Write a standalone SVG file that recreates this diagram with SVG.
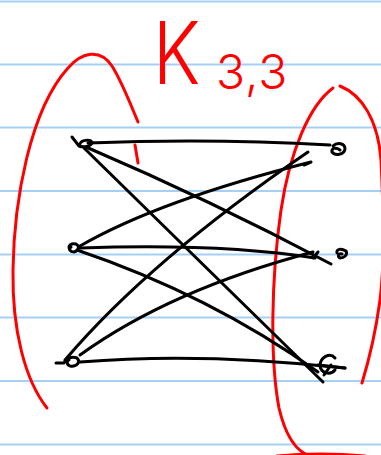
<svg xmlns="http://www.w3.org/2000/svg" width="381" height="455" viewBox="0 0 381 455">
<style>
.rule{stroke:#a6cff5;stroke-width:2}
.red{fill:none;stroke:#ff0000;stroke-width:3;stroke-linecap:round;stroke-linejoin:round}
.edge{fill:none;stroke:#000;stroke-width:3;stroke-linecap:round;stroke-linejoin:round}
.node{fill:none;stroke:#000;stroke-width:3;stroke-linecap:round;stroke-linejoin:round}
.lbl{fill:#ff0000;font-family:Inter,"Liberation Sans",sans-serif;font-weight:300}
</style>
<rect width="381" height="455" fill="#fff"/>
<g id="paper-lines">
<line class="rule" x1="0" y1="1.5" x2="381" y2="1.5"/>
<line class="rule" x1="0" y1="64.5" x2="381" y2="64.5"/>
<line class="rule" x1="0" y1="127.5" x2="381" y2="127.5"/>
<line class="rule" x1="0" y1="191" x2="381" y2="191"/>
<line class="rule" x1="0" y1="254.5" x2="381" y2="254.5"/>
<line class="rule" x1="0" y1="317.5" x2="381" y2="317.5"/>
<line class="rule" x1="0" y1="381" x2="381" y2="381"/>
<line class="rule" x1="0" y1="444.5" x2="381" y2="444.5"/>
</g>
<g id="title">
<text class="lbl" font-size="86" transform="translate(153,84) scale(0.85,1)">K</text>
<text class="lbl" font-size="48" x="216" y="89" letter-spacing="1">3,3</text>
</g>
<g id="left-part">
<path class="red" d="M47,408 C25,380 12,330 13,270 C14,200 30,110 68,68 C82,52 100,48 112,66 C122,82 130,103 138,122"/>
<path class="red" d="M135,145 L138,163"/>
</g>
<g id="right-part">
<path class="red" d="M333,88 C310,105 290,150 281,210 C271,280 270,360 279,408 C286,438 298,452 310,456"/>
<path class="red" d="M277,456 Q320,452 365,456"/>
<path class="red" d="M340,86 C362,95 378,120 381,160 C384,220 384,270 380,300 C376,330 369,360 362,383"/>
</g>
<g id="connectors">
<path class="edge" d="M88,143 Q210,138 330,145"/>
<path class="edge" d="M86,147 Q210,200 331,264"/>
<path class="edge" d="M84,148 L323,382"/>
<path class="edge" d="M80,246 Q160,200 311,162 M311,162 L304,165"/>
<path class="edge" d="M80,248 Q220,243 315,258 M313,258 L318,252"/>
<path class="edge" d="M77,250 Q210,295 318,372"/>
<path class="edge" d="M65,360 Q150,260 308,152"/>
<path class="edge" d="M80,355 Q170,290 313,252"/>
<path class="edge" d="M80,362 Q200,352 345,368"/>
</g>
<g id="node-a1"><path class="node" d="M72,137 L79,146 C84,148 92,146 92,142 C90,139 81,140 80,144"/></g>
<g id="node-a2"><path class="node" d="M70,250 C67,245 72,243 76,244 C80,246 79,251 74,252 C70,252 68,249 71,247"/></g>
<g id="node-a3"><path class="node" d="M56,363 L64,363 C66,358 72,356 77,358 C81,362 77,367 70,366 C66,364 67,361 69,360"/></g>
<g id="node-b1"><path class="node" d="M333,146 C337,142 345,143 345,149 C344,155 335,156 332,152 C331,148 336,147 340,150"/></g>
<g id="node-b2"><path class="node" d="M337,253 C336,249 341,248 346,251 C348,255 344,258 340,258 C337,256 339,253 342,254"/></g>
<g id="node-b3"><path class="node" d="M335,358 C330,352 320,357 320,366 C321,373 330,376 335,370 M318,365 L345,368 M324,375 L331,365"/></g>
</svg>
